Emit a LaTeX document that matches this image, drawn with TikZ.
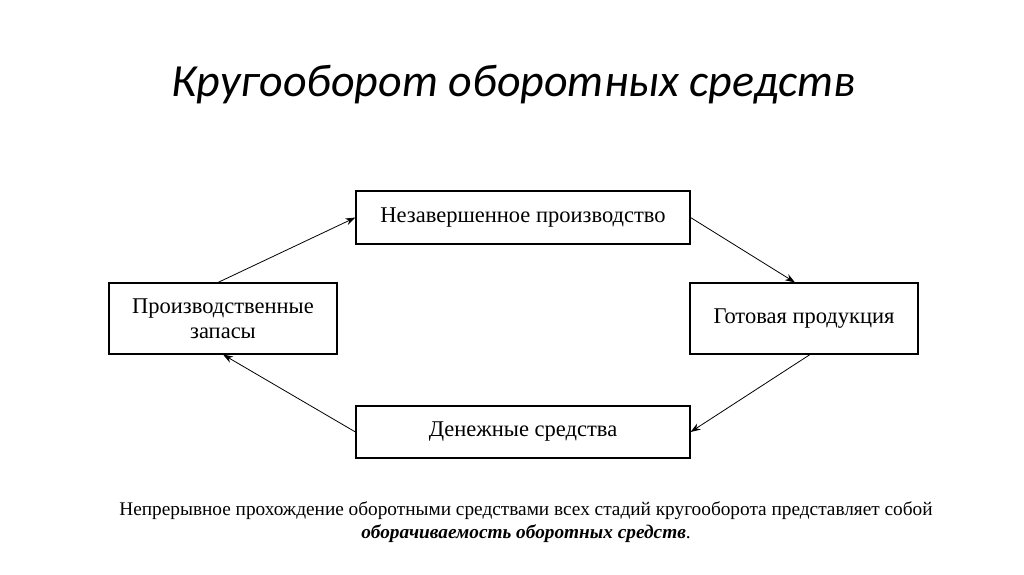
\documentclass[tikz,border=0pt]{standalone}
\usepackage{fontspec}
\setmainfont{Liberation Serif}
\newfontfamily\titlefont{Carlito}
\usetikzlibrary{positioning,arrows.meta}
\begin{document}
\begin{tikzpicture}[x=1pt,y=-1pt,
    stagebox/.style={draw,line width=1.1pt,align=center,font=\fontsize{22.5}{25}\selectfont},
    flow/.style={-{Stealth[length=10pt,width=7pt]},line width=0.8pt}]

    \useasboundingbox (0,0) rectangle (1024,574);

    \node[font=\titlefont\itshape\fontsize{46}{50}\selectfont] (title) at (514,85) {Кругооборот оборотных средств};

    \node[stagebox,minimum width=334pt,minimum height=53pt] (wip) at (523,217.5) {Незавершенное производство};
    \node[stagebox,minimum width=228pt,minimum height=71pt] (stock) at (223,318.5) {Производственные\\запасы};
    \node[stagebox,minimum width=228pt,minimum height=71pt] (goods) at (804,318.5) {Готовая продукция};
    \node[stagebox,minimum width=334pt,minimum height=52pt] (cash) at (523,432) {Денежные средства};

    \draw[flow] (stock.north) ++(-5,0) -- (wip.west);
    \draw[flow] (wip.east) -- ([xshift=-9pt]goods.north);
    \draw[flow] ([xshift=6pt]goods.south) -- (cash.east);
    \draw[flow] (cash.west) -- (stock.south);

    \node[font=\fontsize{19.3}{23}\selectfont,align=center] (note) at (526,522)
        {Непрерывное прохождение оборотными средствами всех стадий кругооборота представляет собой\\
         \textbf{\textit{оборачиваемость оборотных средств}}.};

\end{tikzpicture}
\end{document}
